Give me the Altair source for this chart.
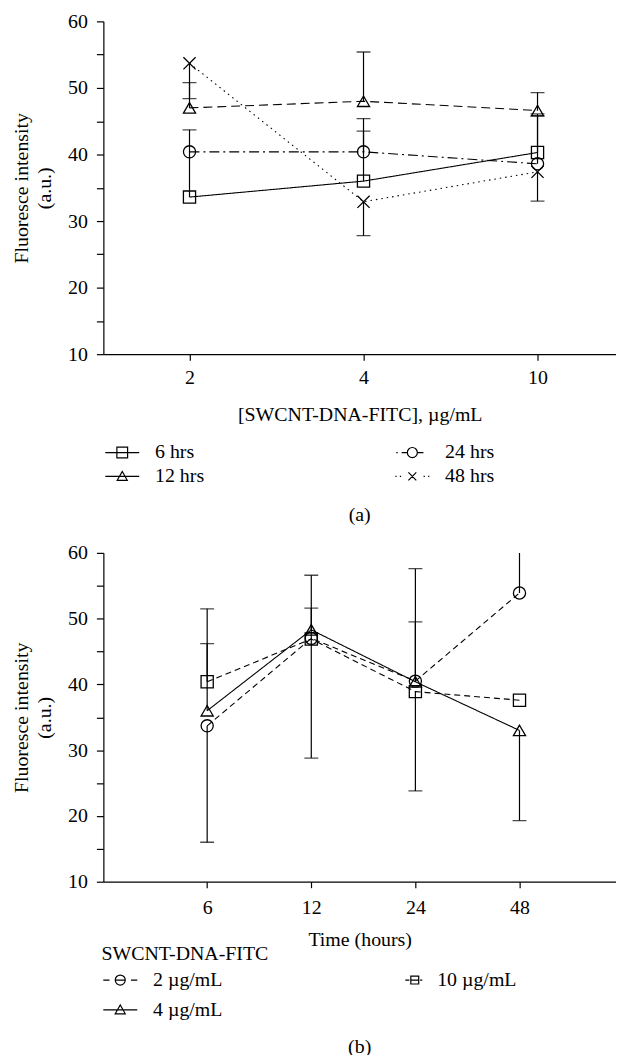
import json
import altair as alt
import pandas as pd

FONT = "Liberation Serif"
FS = 20

# ---------------- panel (a) data ----------------
conc_labels = ["2", "4", "10"]
series_a = ["6 hrs", "12 hrs", "24 hrs", "48 hrs"]
a_6h = [33.6, 36.0, 40.3]
a_12h = [47.0, 48.0, 46.6]
a_24h = [40.4, 40.4, 38.6]
a_48h = [53.7, 32.9, 37.4]
# error-bar ends (None = no bar on that side)
a_6h_hi = [43.7, 43.5, 46.1]
a_12h_hi = [50.8, 55.4, 49.3]
a_24h_hi = [None, 45.4, 45.8]
a_48h_lo = [48.4, 27.8, 33.0]

# ---------------- panel (b) data ----------------
time_labels = ["6", "12", "24", "48"]
series_b = ["2 µg/mL", "4 µg/mL", "10 µg/mL"]
b_2 = [33.7, 47.0, 40.5, 53.9]
b_4 = [36.0, 48.3, 40.4, 33.0]
b_10 = [40.4, 46.9, 38.9, 37.6]
b_2_lo = [16.0, 28.8, None, None]
b_2_hi = [None, None, 57.6, 60.5]
b_4_hi = [46.2, 56.6, 49.5, None]
b_4_lo = [None, None, None, 19.3]
b_10_hi = [51.5, 51.6, None, None]
b_10_lo = [None, None, 23.8, None]


def build_frames(series, values, ends):
    pts, err, caps = [], [], []
    for s, vals in zip(series, values):
        for i, v in enumerate(vals):
            pts.append({"idx": i, "series": s, "value": v})
    for s, v_list, end_list in ends:
        for i, (v, e) in enumerate(zip(v_list, end_list)):
            if e is None:
                continue
            err.append({"idx": i, "series": s, "value": v, "v2": e})
            caps.append({"idx": i, "series": s, "value": e})
    return pd.DataFrame(pts), pd.DataFrame(err), pd.DataFrame(caps)


pts_a, err_a, caps_a = build_frames(
    series_a, [a_6h, a_12h, a_24h, a_48h],
    [("6 hrs", a_6h, a_6h_hi), ("12 hrs", a_12h, a_12h_hi),
     ("24 hrs", a_24h, a_24h_hi), ("48 hrs", a_48h, a_48h_lo)])

pts_b, err_b, caps_b = build_frames(
    series_b, [b_2, b_4, b_10],
    [("2 µg/mL", b_2, b_2_lo), ("2 µg/mL", b_2, b_2_hi),
     ("4 µg/mL", b_4, b_4_hi), ("4 µg/mL", b_4, b_4_lo),
     ("10 µg/mL", b_10, b_10_hi), ("10 µg/mL", b_10, b_10_lo)])

X_PATH = "M-1,-1L1,1M-1,1L1,-1"
CIRC = "A0.28,0.28 0 1,0 0.28,0A0.28,0.28 0 1,0 -0.28,0"


def panel(pts, err, caps, labels, x_domain, series, shapes, dashes,
          leg_paths, leg_kw, x_title, caption, cap_offset, height,
          x_label_pad, x_title_pad):
    n = len(labels)
    x_enc = alt.X(
        "idx:Q",
        scale=alt.Scale(domain=x_domain, nice=False, zero=False),
        axis=alt.Axis(values=list(range(n)),
                      labelExpr=json.dumps(labels) + "[datum.value]",
                      title=x_title, grid=False, labelPadding=x_label_pad,
                      titlePadding=x_title_pad, tickSize=6),
    )
    y_enc = alt.Y(
        "value:Q",
        scale=alt.Scale(domain=[10, 60], nice=False, zero=False),
        axis=alt.Axis(values=list(range(10, 61, 5)),
                      labelExpr="datum.value % 10 === 0 ? datum.label : ''",
                      title=["Fluoresce intensity", "(a.u.)"], grid=False,
                      tickSize=7, labelPadding=9, titlePadding=13,
                      titleLineHeight=23),
    )
    base = alt.Chart(pts)
    lines = base.mark_line(color="black", strokeWidth=1.1).encode(
        x=x_enc, y=y_enc,
        strokeDash=alt.StrokeDash("series:N",
                                  scale=alt.Scale(domain=series, range=dashes),
                                  legend=None),
        order=alt.Order("idx:Q"),
    )
    rules = alt.Chart(err).mark_rule(color="black", strokeWidth=1.2,
                                     clip=True).encode(
        x=x_enc, y=y_enc, y2=alt.Y2("v2:Q"), detail="series:N")
    cap_marks = alt.Chart(caps).mark_tick(color="black", orient="horizontal",
                                          size=14, thickness=1.3,
                                          clip=True).encode(
        x=x_enc, y=y_enc, detail="series:N")
    points = base.mark_point(filled=False, color="black", strokeWidth=1.3,
                             size=150, opacity=1).encode(
        x=x_enc, y=y_enc,
        shape=alt.Shape("series:N",
                        scale=alt.Scale(domain=series, range=shapes),
                        legend=None),
    )
    legend_layer = base.mark_point(filled=False, color="black", opacity=0,
                                   size=1296).encode(
        x=x_enc, y=y_enc,
        shape=alt.Shape("series:N",
                        scale=alt.Scale(domain=series, range=leg_paths),
                        legend=alt.Legend(
                            orient="none", columns=2, clipHeight=20,
                            symbolSize=1296, symbolStrokeWidth=1.2,
                            symbolStrokeColor="black",
                            symbolFillColor="transparent",
                            labelFont=FONT, labelFontSize=FS,
                            labelColor="black", titleFont=FONT,
                            titleFontSize=FS, titleFontWeight="normal",
                            titleColor="black", padding=0, **leg_kw)),
    )
    return (
        alt.layer(lines, rules, cap_marks, points, legend_layer)
        .resolve_scale(shape="independent")
        .properties(width=516, height=height,
                    title=alt.TitleParams(caption, orient="bottom",
                                          anchor="middle", fontSize=FS,
                                          font=FONT, fontWeight="normal",
                                          color="black", offset=cap_offset))
    )


top = panel(
    pts_a, err_a, caps_a, conc_labels, [-0.495, 2.451], series_a,
    ["square", "triangle-up", "circle", X_PATH],
    [[1, 0], [9, 5], [10, 4, 2, 4], [1.5, 4]],
    ["M-0.95,0H0.95M-0.3,-0.3H0.3V0.3H-0.3Z",
     "M-0.95,0H0.95M-0.28,0.22L0,-0.28L0.28,0.22Z",
     "M-0.9,0H-0.82M-0.6,0H-0.28M0.28,0H0.62M-0.28,0" + CIRC,
     "M-0.95,0H-0.88M-0.7,0H-0.63M0.63,0H0.7M0.88,0H0.95"
     "M-0.22,-0.22L0.22,0.22M-0.22,0.22L0.22,-0.22"],
    dict(title=None, legendX=0, legendY=424, columnPadding=190,
         rowPadding=4, labelOffset=14),
    "[SWCNT-DNA-FITC], µg/mL", "(a)", 19, 335, 8, 17,
)

bottom = panel(
    pts_b, err_b, caps_b, time_labels, [-0.997, 3.927], series_b,
    ["circle", "triangle-up", "square"],
    [[6, 4], [1, 0], [6, 4]],
    ["M-0.95,0H-0.6M0.6,0H0.95M-0.3,0H0.3M-0.28,0" + CIRC,
     "M-0.95,0H0.95M-0.28,0.22L0,-0.28L0.28,0.22Z",
     "M0.05,0H0.28M0.88,0H1M0.36,0H0.8M0.36,-0.22H0.8V0.22H0.36Z"],
    dict(title="SWCNT-DNA-FITC", legendX=-2, legendY=394, columnPadding=164,
         rowPadding=10, labelOffset=14, titlePadding=6, titleAnchor="start"),
    "Time (hours)", "(b)", 17, 331, 10, 12,
)

chart = (
    alt.vconcat(top, bottom, spacing=18)
    .resolve_scale(strokeDash="independent", shape="independent",
                   x="independent", y="independent")
    .properties(padding={"left": 4, "top": 0, "right": 0, "bottom": 0})
    .configure_view(stroke=None)
    .configure_axis(labelFont=FONT, titleFont=FONT, labelFontSize=FS,
                    titleFontSize=FS, titleFontWeight="normal",
                    labelColor="black", titleColor="black",
                    domainColor="black", tickColor="black",
                    domainWidth=1.2, tickWidth=1.2)
)

chart.save("out.html", embed_options={"renderer": "svg", "actions": False})
